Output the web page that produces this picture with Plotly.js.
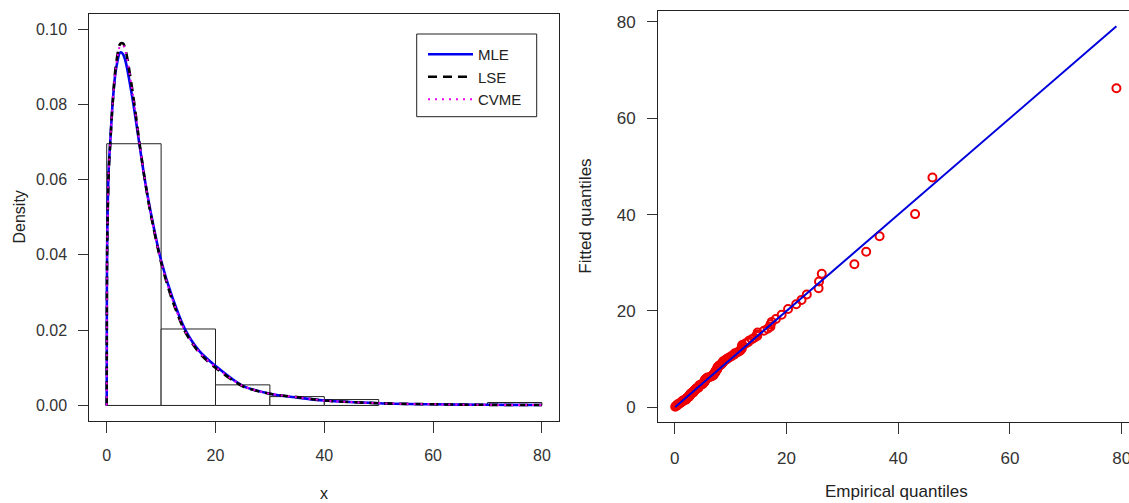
<!DOCTYPE html>
<html><head><meta charset="utf-8">
<script src="https://cdn.plot.ly/plotly-3.0.1.min.js"></script>
<style>html,body{margin:0;padding:0;background:#fff}#chart{width:1129px;height:503px}</style>
</head><body><div id="chart"></div>
<script>
// Empirical data (remission times), used for histogram and QQ x values
const remission = [0.08,0.20,0.40,0.50,0.51,0.81,0.90,1.05,1.19,1.26,1.35,1.40,1.46,1.76,2.02,2.02,2.07,2.09,2.23,2.26,
2.46,2.54,2.62,2.64,2.69,2.69,2.75,2.83,2.87,3.02,3.25,3.31,3.36,3.36,3.48,3.52,3.57,3.64,3.70,3.82,
3.88,4.18,4.23,4.26,4.33,4.34,4.40,4.50,4.51,4.87,4.98,5.06,5.09,5.17,5.32,5.32,5.34,5.41,5.41,5.49,
5.62,5.71,5.85,6.25,6.54,6.76,6.93,6.94,6.97,7.09,7.26,7.28,7.32,7.39,7.59,7.62,7.63,7.66,7.87,7.93,
8.26,8.37,8.53,8.65,8.66,9.02,9.22,9.47,9.74,10.06,10.34,10.66,10.75,11.25,11.64,11.79,11.98,12.02,12.03,12.07,
12.63,13.11,13.29,13.80,14.24,14.76,14.77,14.83,15.96,16.62,17.12,17.14,17.36,18.10,19.13,20.28,21.73,22.69,23.63,25.74,
25.82,26.31,32.15,34.26,36.66,43.01,46.12,79.05];

// Fitted quantiles
const fittedQuantiles = [0.11,0.27,0.40,0.52,0.64,0.75,0.86,0.96,1.06,1.15,1.24,1.33,1.42,1.51,1.60,1.69,1.78,1.87,1.96,2.05,
2.14,2.23,2.32,2.41,2.50,2.59,2.68,2.77,2.86,2.95,3.04,3.13,3.22,3.31,3.40,3.49,3.58,3.67,3.76,3.85,
3.94,4.03,4.12,4.21,4.30,4.39,4.48,4.57,4.66,4.76,4.86,4.96,5.06,5.16,5.26,5.37,5.48,5.59,5.70,5.81,
5.93,6.05,6.17,6.29,6.42,6.55,6.68,6.82,6.96,7.10,7.25,7.40,7.55,7.70,7.86,8.02,8.18,8.34,8.51,8.68,
8.85,9.03,9.21,9.39,9.58,9.77,9.96,10.16,10.36,10.57,10.78,11.00,11.22,11.45,11.68,11.92,12.17,12.42,12.68,12.95,
13.23,13.52,13.82,14.13,14.45,14.79,15.14,15.51,15.90,16.31,16.75,17.22,17.73,18.35,19.20,20.40,21.40,22.30,23.40,24.70,
26.10,27.70,29.70,32.30,35.50,40.10,47.70,66.20];

// Density curves
const curveX      = [0, 0.03, 0.1, 0.37, 0.65, 1.1, 1.7, 2.5, 3.0, 3.5, 4.8, 6, 7, 8, 10, 12, 14.4, 17, 20, 25, 30, 35, 40, 50, 60, 70, 80];
const densityMLE  = [0, 0.030, 0.045, 0.063, 0.0700, 0.0805, 0.0893, 0.0938, 0.0933, 0.0912, 0.0810, 0.0695, 0.0600, 0.0520, 0.0385, 0.0290, 0.0202, 0.0145, 0.0105, 0.0052, 0.0031, 0.0021, 0.0013, 0.0006, 0.0003, 0.00017, 0.0001];
const densityLSE  = [0, 0.028, 0.043, 0.062, 0.0695, 0.0805, 0.0905, 0.0961, 0.0962, 0.0942, 0.0830, 0.0700, 0.0600, 0.0515, 0.0380, 0.0282, 0.0196, 0.0140, 0.0100, 0.0051, 0.0031, 0.0022, 0.0013, 0.0006, 0.0003, 0.00016, 0.0001];
const densityCVME = [0, 0.029, 0.044, 0.0625, 0.0697, 0.0805, 0.0900, 0.0956, 0.0957, 0.0938, 0.0826, 0.0699, 0.0600, 0.0517, 0.0382, 0.0285, 0.0198, 0.0142, 0.0102, 0.0052, 0.0031, 0.0022, 0.0013, 0.0006, 0.0003, 0.00016, 0.0001];

const seriesNames = ['MLE', 'LSE', 'CVME'];
const xTicks = [0, 20, 40, 60, 80];
const densityTicks = [0, 0.02, 0.04, 0.06, 0.08, 0.10];
const densityTickText = ['0.00', '0.02', '0.04', '0.06', '0.08', '0.10'];
const quantileTicks = [0, 20, 40, 60, 80];

const W = 1129, H = 503;
const px = v => v / W;
const py = v => 1 - v / H;

const traces = [
  {type: 'histogram', x: remission, histnorm: 'probability density',
   xbins: {start: 0, end: 80, size: 10},
   marker: {color: '#ffffff', line: {color: '#222222', width: 1}},
   xaxis: 'x', yaxis: 'y', showlegend: false, hoverinfo: 'skip'},
  {type: 'scatter', mode: 'lines', name: seriesNames[0], x: curveX, y: densityMLE,
   line: {color: '#0000ee', width: 2.6, shape: 'spline', smoothing: 0.8}, xaxis: 'x', yaxis: 'y'},
  {type: 'scatter', mode: 'lines', name: seriesNames[1], x: curveX, y: densityLSE,
   line: {color: '#000000', width: 2.6, dash: '9px,6px', shape: 'spline', smoothing: 0.8}, xaxis: 'x', yaxis: 'y'},
  {type: 'scatter', mode: 'lines', name: seriesNames[2], x: curveX, y: densityCVME,
   line: {color: '#ee00ee', width: 2, dash: '2px,5px', shape: 'spline', smoothing: 0.8}, xaxis: 'x', yaxis: 'y'},
  {type: 'scatter', mode: 'markers', x: remission, y: fittedQuantiles,
   marker: {symbol: 'circle-open', size: 8, color: '#ee0000', line: {color: '#ee0000', width: 2}},
   cliponaxis: false, xaxis: 'x2', yaxis: 'y2', showlegend: false},
  {type: 'scatter', mode: 'lines',
   x: [Math.min(...remission), Math.max(...remission)],
   y: [Math.min(...remission), Math.max(...remission)],
   line: {color: '#0000dd', width: 2}, xaxis: 'x2', yaxis: 'y2', showlegend: false}
];

const axBase = {
  ticks: 'outside', tickcolor: '#333', tickwidth: 1, showline: true, linecolor: '#222', linewidth: 1,
  showgrid: false, zeroline: false, ticklabeloverflow: 'allow'
};

const layout = {
  width: W, height: H, margin: {l: 0, r: 0, t: 0, b: 0},
  paper_bgcolor: '#ffffff', plot_bgcolor: '#ffffff', bargap: 0,
  font: {family: 'Liberation Sans, Arial, sans-serif', color: '#222'},
  xaxis: Object.assign({}, axBase, {domain: [px(89.3), px(559.3)], range: [-3.2, 83.2], anchor: 'y', mirror: true,
    tickvals: xTicks, ticklen: 11, ticklabelstandoff: 9, tickfont: {size: 16, color: '#333'}}),
  yaxis: Object.assign({}, axBase, {domain: [py(420.5), py(14)], range: [-0.004, 0.104], anchor: 'x', mirror: true,
    tickvals: densityTicks, ticktext: densityTickText, ticklen: 10, ticklabelstandoff: 8, tickfont: {size: 16, color: '#333'}}),
  xaxis2: Object.assign({}, axBase, {domain: [px(658), 1], range: [-3.0, 81.3], anchor: 'y2', mirror: true,
    tickvals: xTicks, ticklen: 11, ticklabelstandoff: 9, tickfont: {size: 17, color: '#333'}}),
  yaxis2: Object.assign({}, axBase, {domain: [py(422.3), py(10.7)], range: [-3.1, 82.3], anchor: 'x2', mirror: false,
    tickvals: quantileTicks, ticklen: 10, ticklabelstandoff: 8, tickfont: {size: 17, color: '#333'}}),
  legend: {x: px(423), y: py(38), xanchor: 'left', yanchor: 'top', bgcolor: 'rgba(0,0,0,0)',
    borderwidth: 0, font: {size: 15, color: '#222'}, itemwidth: 45, tracegroupgap: 0},
  shapes: [
    {type: 'rect', xref: 'paper', yref: 'paper', x0: px(416.7), x1: px(536.7), y0: py(116.7), y1: py(34),
     line: {color: '#222', width: 1}, fillcolor: '#ffffff', layer: 'above'}
  ],
  annotations: [
    {text: 'x', xref: 'paper', yref: 'paper', x: px(324.3), y: py(493), xanchor: 'center', yanchor: 'middle',
     showarrow: false, font: {size: 16, color: '#222'}},
    {text: 'Density', xref: 'paper', yref: 'paper', x: px(18.5), y: py(217), xanchor: 'center', yanchor: 'middle',
     textangle: -90, showarrow: false, font: {size: 16, color: '#222'}},
    {text: 'Empirical quantiles', xref: 'paper', yref: 'paper', x: px(896), y: 0, xanchor: 'center', yanchor: 'bottom',
     showarrow: false, font: {size: 17, color: '#222'}},
    {text: 'Fitted quantiles', xref: 'paper', yref: 'paper', x: px(586), y: py(216.7), xanchor: 'center', yanchor: 'middle',
     textangle: -90, showarrow: false, font: {size: 17, color: '#222'}}
  ]
};

Plotly.newPlot('chart', traces, layout, {staticPlot: true, displayModeBar: false});
</script>
</body></html>
